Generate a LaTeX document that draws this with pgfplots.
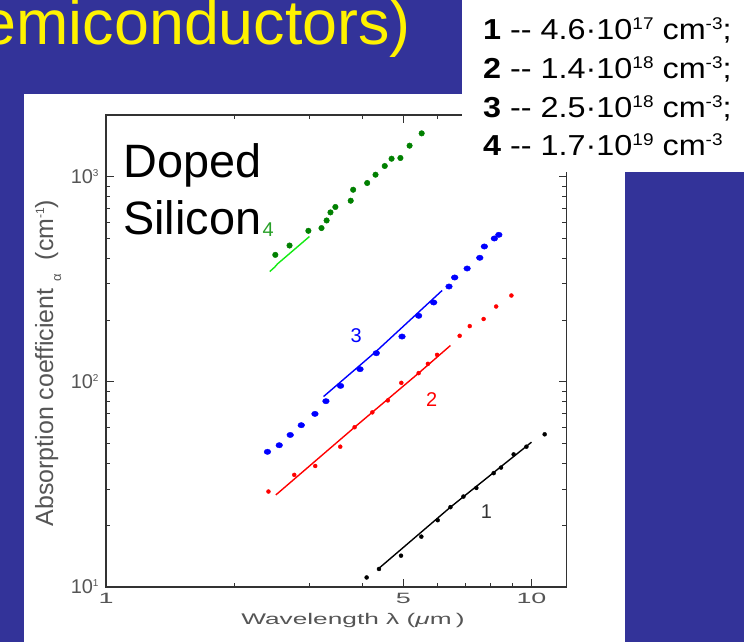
\documentclass[border=0pt]{standalone}
\usepackage{pgfplots}
\pgfplotsset{compat=1.18}
\usepackage{fontspec}
\setmainfont{Liberation Sans}
\definecolor{slideblue}{RGB}{51,51,153}
\definecolor{dgreen}{RGB}{0,128,0}
\definecolor{lgreen}{RGB}{20,235,20}
\definecolor{lblgreen}{RGB}{40,160,40}
\definecolor{axgray}{RGB}{50,50,50}
\definecolor{lblgray}{RGB}{85,85,85}
\newcommand\fs[1]{\fontsize{#1}{#1}\selectfont}
\newcommand\lsup[1]{\raisebox{10bp}{\fs{17}#1}}
\newcommand\legline[1]{\scalebox{1.12}[1]{#1}}
\begin{document}
\begin{tikzpicture}[x=1bp,y=1bp]
\path[use as bounding box, clip] (0,0) rectangle (744,642);
\fill[slideblue] (0,0) rectangle (744,642);
\fill[white] (24,0) rectangle (625,548);
\node[anchor=base east, text=yellow, font=\fs{63}, inner sep=0] at (411,597) {Semiconductors)};
\begin{axis}[
  at={(106bp,55bp)}, anchor=south west,
  scale only axis, width=460.7bp, height=472bp,
  xmode=log, ymode=log,
  xmin=1, xmax=12.1, ymin=10, ymax=2000,
  xtick={1,5,10},
  xticklabels={\scalebox{1.8}[1]{1},\scalebox{1.8}[1]{5},\scalebox{1.8}[1]{10}},
  minor xtick={2,3,4,6,7,8,9},
  ytick={10,100,1000},
  yticklabels={10\raisebox{7bp}{\fs{10}1},10\raisebox{7bp}{\fs{10}2},10\raisebox{7bp}{\fs{10}3}},
  minor ytick={20,30,40,50,60,70,80,90,200,300,400,500,600,700,800,900},
  tick align=inside,
  major tick length=8bp, minor tick length=4.5bp,
  every tick/.style={axgray, line width=1bp},
  axis line style={axgray, line width=1.2bp},
  xticklabel style={font=\fs{15}, text=lblgray, yshift=-3bp},
  yticklabel style={font=\fs{20}, text=lblgray, xshift=-4bp},
  clip=false,
]
% series 4 (green)
\addplot[only marks, mark=*, mark size=2.8, dgreen] coordinates {
 (2.50,416)(2.70,462)(2.99,545)(3.21,562)(3.30,612)(3.37,670)(3.46,712)
 (3.76,764)(3.81,864)(4.11,932)(4.30,1023)(4.52,1128)(4.69,1224)(4.92,1234)
 (5.17,1417)(5.52,1627)};
\addplot[lgreen, line width=1.4bp] coordinates {(2.426,345)(2.49,362)(2.53,376)(3.007,511)};
% series 3 (blue)
\addplot[only marks, mark=*, mark size=2.7, blue, mark options={xscale=1.25}] coordinates {
 (2.396,45.6)(2.554,49.1)(2.710,55.1)(2.877,61.5)(3.098,69.8)(3.288,80.5)
 (3.558,95.6)(3.954,115.3)(4.318,138)(4.963,166.3)(5.43,209.9)(5.89,243.8)
 (6.40,291.6)(6.60,322.7)(7.06,357)(7.56,402.6)(7.75,457)(8.18,500)(8.38,521)};
\addplot[blue, line width=1.4bp] coordinates {(3.246,84.8)(4.318,141)(6.166,278.9)};
% series 2 (red)
\addplot[only marks, mark=*, mark size=2.0, red] coordinates {
 (2.409,29.2)(2.770,35.2)(3.103,38.9)(3.553,48.3)(3.840,60.1)(4.226,71.0)
 (4.596,81.2)(4.944,98.9)(5.43,110.3)(5.71,122.4)(6.00,135.4)(6.78,167.7)
 (7.16,187)(7.72,202.5)(8.26,233)(8.97,263.6)};
\addplot[red, line width=1.4bp] coordinates {(2.507,28.1)(3.84,60.1)(5.43,110.3)(6.45,150.4)};
% series 1 (black)
\addplot[only marks, mark=*, mark size=2.0, black] coordinates {
 (4.098,11.13)(4.381,12.24)(4.936,14.21)(5.51,17.6)(6.02,21.16)(6.45,24.5)
 (6.92,27.6)(7.42,30.4)(8.15,35.9)(8.48,38.2)(9.08,44.3)(9.73,48.3)(10.74,55.5)};
\addplot[black, line width=1.4bp] coordinates {(4.353,12.2)(6.45,24.5)(10.0,50.8)};
% curve labels
\node[font=\fs{20}, text=lblgreen] at (axis cs:2.406,554) {4};
\node[font=\fs{20}, text=blue] at (axis cs:3.874,168.6) {3};
\node[font=\fs{20}, text=red] at (axis cs:5.83,82.2) {2};
\node[font=\fs{20}, text=black!80] at (axis cs:7.84,23.2) {1};
\end{axis}
% Doped Silicon
\node[anchor=base west, inner sep=0, font=\fs{47}] at (123,464) {Doped};
\node[anchor=base west, inner sep=0, font=\fs{47}] at (123,407) {Silicon};
% axis labels
\node[rotate=90, anchor=base, inner sep=0, font=\fs{25}, text=lblgray] at (53,279)
 {Absorption coefficient \raisebox{-8bp}{\fs{13}α}\ \ (cm\raisebox{9bp}{\fs{12}-1})};
\node[anchor=base, inner sep=0, font=\fs{15.5}, text=lblgray] at (353,17)
 {\scalebox{1.7}[1]{Wavelength λ (\textit{μ}m\,)}};
% legend box
\fill[white] (462,470) rectangle (744,642);
\node[anchor=base west, inner sep=0, font=\fs{29}] at (483,602) {\legline{\textbf{1} -{}- 4.6·10\lsup{17} cm\lsup{-3};}};
\node[anchor=base west, inner sep=0, font=\fs{29}] at (483,563) {\legline{\textbf{2} -{}- 1.4·10\lsup{18} cm\lsup{-3};}};
\node[anchor=base west, inner sep=0, font=\fs{29}] at (483,524) {\legline{\textbf{3} -{}- 2.5·10\lsup{18} cm\lsup{-3};}};
\node[anchor=base west, inner sep=0, font=\fs{29}] at (483,486) {\legline{\textbf{4} -{}- 1.7·10\lsup{19} cm\lsup{-3}}};
\end{tikzpicture}
\end{document}
